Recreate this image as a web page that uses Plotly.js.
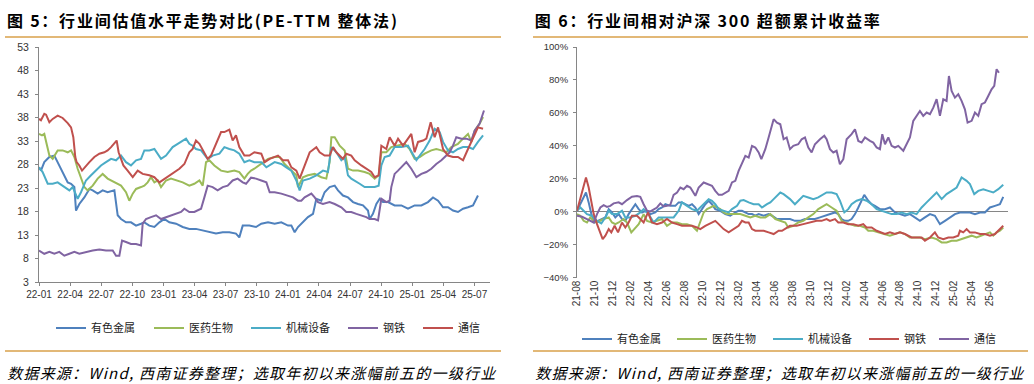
<!DOCTYPE html>
<html>
<head>
<meta charset="utf-8">
<script src="https://cdn.plot.ly/plotly-3.0.1.min.js"></script>
<style>
html,body{margin:0;padding:0;background:#fff;}
#chart{width:1034px;height:384px;}
</style>
</head>
<body>
<div id="chart"></div>
<script>
// ---------- Chart 5: PE-TTM (x = months since 2022-01) ----------
const leftTickLabels = ['22-01','22-04','22-07','22-10','23-01','23-04','23-07','23-10','24-01','24-04','24-07','24-10','25-01','25-04','25-07'];
const seriesNames = ['有色金属','医药生物','机械设备','钢铁','通信'];

const peMetalX = [0,0.19,0.51,1.0,1.48,1.8,2.12,2.44,2.77,3.09,3.41,3.57,3.89,4.37,4.86,5.18,5.66,6.14,6.62,7.27,7.43,7.59,7.91,8.39,8.87,9.36,9.84,10.16,10.64,11.13,11.61,12.09,12.57,13.22,13.86,14.5,15.14,15.79,16.43,17.07,17.72,18.36,19.0,19.32,19.65,20.29,20.93,21.44,22.09,22.73,23.37,24.02,24.34,24.66,24.98,25.46,25.94,26.43,26.75,27.23,27.55,28.03,28.52,28.84,29.32,29.8,30.29,30.77,31.25,31.73,31.89,32.21,32.54,32.86,33.18,33.66,34.3,34.95,35.59,36.23,36.88,37.52,38.0,38.49,38.97,39.45,39.93,40.41,40.9,41.38,41.86,42.34];
const peMetalY = [27.4,26.7,28.5,29.6,29.9,28.5,27.1,25.7,24.2,23.9,23.2,18.2,19.6,21.0,22.8,22.5,21.8,22.5,22.1,22.5,20.3,17.2,16.4,15.7,15.7,15.0,15.4,15.7,15.0,14.7,15.7,16.4,15.7,15.4,14.7,14.3,14.3,14.0,13.6,13.3,13.6,13.6,13.3,12.5,15.0,15.0,14.7,15.4,15.7,15.4,15.7,15.0,15.0,13.6,14.7,15.7,16.8,17.5,20.7,20.3,22.1,23.2,23.5,22.5,21.4,21.0,20.0,19.6,19.3,18.2,16.4,17.5,19.6,20.7,20.0,20.0,19.3,19.3,18.6,19.3,19.3,20.0,21.0,20.3,18.9,18.9,18.2,17.9,18.6,18.9,19.3,21.4];

const pePharmaX = [0,0.29,0.51,0.68,1.0,1.32,1.8,2.28,2.77,3.09,3.41,3.73,4.05,4.37,4.69,5.18,5.66,6.14,6.62,7.27,7.91,8.39,8.71,9.04,9.36,9.84,10.16,10.48,10.8,11.13,11.45,11.77,12.25,12.73,13.22,13.86,14.5,14.98,15.47,15.79,16.11,16.43,16.91,17.56,18.2,18.84,19.32,19.81,20.13,20.45,20.77,21.44,22.09,22.73,23.21,23.69,24.34,24.82,24.98,25.46,25.94,26.59,27.23,27.71,28.03,28.2,28.52,29.0,29.48,29.8,30.29,30.77,31.41,31.89,32.38,32.76,33.02,33.5,33.98,34.63,35.27,35.75,36.23,36.72,37.2,37.84,38.32,38.81,39.29,39.77,40.41,40.9,41.38,41.7,42.02,42.5,42.83];
const pePharmaY = [34.5,34.2,34.5,32.8,29.9,29.2,31.0,31.0,30.6,31.0,29.6,27.1,25.0,23.2,22.5,23.5,25.0,26.0,25.0,24.2,23.5,22.1,20.3,21.8,22.8,23.2,23.5,24.2,25.3,24.2,24.6,23.2,24.6,25.0,24.6,24.2,23.5,23.9,24.6,23.5,28.5,28.9,27.8,26.7,26.4,26.7,26.4,25.0,26.0,26.7,27.1,28.1,29.2,29.6,29.6,28.1,26.7,25.7,23.2,25.3,25.7,26.0,25.3,25.0,28.5,33.8,33.8,32.0,31.0,27.1,26.7,26.7,26.4,26.0,25.0,25.7,30.6,30.6,31.7,32.0,32.4,31.3,29.2,29.6,30.3,31.0,31.3,31.0,30.6,31.7,32.4,33.5,34.5,32.8,35.2,36.7,38.1];

const peMachX = [0,0.35,0.84,1.32,1.8,2.44,2.93,3.25,3.5,3.73,4.05,4.53,5.02,5.5,5.98,6.46,6.95,7.43,7.91,8.39,8.87,9.36,9.84,10.16,10.64,11.13,11.45,11.77,12.25,12.89,13.38,13.86,14.18,14.5,14.82,15.14,15.63,16.27,16.75,17.4,17.88,18.36,18.84,19.32,19.81,20.29,20.77,21.44,21.93,22.73,23.37,23.85,24.34,24.82,25.14,25.46,26.11,26.75,27.39,27.87,28.2,28.68,29.16,29.48,29.8,30.12,30.45,30.93,31.41,31.89,32.38,32.76,33.02,33.34,33.82,34.3,34.95,35.59,36.07,36.4,36.72,37.2,37.68,38.16,38.65,38.97,39.45,39.93,40.41,40.9,41.38,41.86,42.34,42.83];
const peMachY = [27.4,26.4,23.9,23.9,24.2,23.2,22.5,23.2,21.8,20.7,22.1,24.6,25.7,26.7,27.8,28.5,29.2,28.9,29.9,28.5,27.8,28.9,29.2,31.0,31.0,31.3,30.3,29.2,29.9,31.7,32.4,33.1,33.5,32.4,32.0,31.3,31.0,29.2,29.9,30.3,31.7,31.3,31.0,30.3,28.5,28.9,28.5,28.5,27.4,28.5,28.1,27.4,26.7,24.6,22.5,24.6,25.0,25.7,26.7,26.4,31.7,30.6,28.9,29.6,25.7,25.0,24.6,23.9,23.2,23.2,23.2,23.5,27.8,29.6,29.9,31.7,31.7,32.0,30.3,28.9,29.9,31.3,33.1,35.6,34.9,32.8,31.0,30.6,31.3,31.7,31.7,31.3,32.8,34.2];

const peSteelX = [0,0.51,1.0,1.48,1.96,2.44,2.93,3.41,3.89,4.53,5.18,5.82,6.46,7.11,7.43,7.75,8.01,8.39,8.87,9.36,9.84,10.0,10.32,10.8,11.29,11.77,12.25,12.73,13.22,13.7,14.02,14.5,14.98,15.63,15.95,16.27,16.75,17.23,17.72,18.2,18.68,19.16,19.65,19.97,20.45,20.93,21.44,21.93,22.25,22.73,23.37,23.85,24.5,24.98,25.3,25.62,26.27,26.59,26.91,27.39,28.03,28.52,29.16,29.64,30.12,30.61,31.09,31.57,31.89,32.38,32.7,33.02,33.5,33.82,33.98,34.3,34.63,34.95,35.43,35.91,36.4,36.88,37.36,37.84,38.32,38.81,39.29,39.61,39.93,40.25,40.74,41.22,41.7,42.02,42.5,42.92];
const peSteelY = [9.7,9.0,9.4,9.0,9.4,8.6,9.0,9.4,9.0,9.4,9.7,9.9,9.7,9.7,8.6,8.6,11.8,11.5,11.1,11.1,10.8,15.4,16.4,16.8,17.2,16.4,16.8,17.2,17.5,17.9,18.6,17.9,17.9,18.6,21.0,23.5,23.2,22.5,23.2,23.5,24.6,25.0,24.2,23.9,25.2,25.0,24.6,24.2,22.1,22.1,21.8,21.4,21.0,20.3,20.3,21.0,21.8,21.0,20.0,19.6,20.0,19.6,18.9,17.9,17.9,17.5,17.2,16.8,16.4,16.4,16.1,20.7,20.0,20.3,23.2,26.0,26.7,27.4,28.5,27.1,25.3,26.0,26.4,27.1,28.1,28.9,29.9,30.6,32.0,33.8,33.5,33.5,33.1,35.2,36.7,39.5];

const peTelecomX = [0,0.19,0.51,0.68,1.0,1.32,1.8,2.28,2.77,3.09,3.31,3.5,3.63,3.89,4.15,4.53,4.86,5.34,5.82,6.3,6.62,6.95,7.27,7.49,7.68,7.91,8.14,8.55,9.04,9.52,10.0,10.64,11.13,11.61,12.09,12.57,13.05,13.54,14.02,14.5,14.82,15.14,15.47,15.79,16.27,16.59,17.07,17.56,17.88,18.36,18.68,19.0,19.32,19.81,20.29,20.77,21.44,21.76,22.25,23.05,23.53,24.02,24.34,24.82,25.14,25.62,26.11,26.75,27.07,27.55,28.03,28.36,28.68,29.32,29.64,30.12,30.45,31.09,31.57,32.05,32.38,32.76,33.02,33.5,33.82,34.3,34.63,35.11,35.59,35.91,36.23,36.56,37.04,37.36,37.78,38.16,38.49,38.97,39.45,39.93,40.41,40.9,41.38,41.86,42.34,42.83];
const peTelecomY = [37.7,37.4,38.8,38.6,37.0,37.7,38.4,37.9,36.8,35.9,33.8,29.6,28.5,27.8,26.7,27.8,28.5,29.6,30.3,30.6,31.0,31.7,32.4,33.1,30.6,29.2,27.8,26.7,25.3,26.7,26.0,25.7,25.3,24.2,24.9,25.7,26.4,27.1,28.1,30.6,31.3,33.1,32.4,31.0,29.2,29.9,32.4,34.9,34.9,35.4,33.1,34.2,31.7,29.9,29.9,30.6,30.3,28.5,29.2,29.9,28.9,28.9,27.4,26.7,25.0,27.8,30.6,31.7,30.6,29.9,29.9,31.7,30.6,29.2,30.3,29.9,28.9,27.8,27.1,26.4,25.3,25.7,32.0,31.3,33.8,32.0,33.5,32.0,33.5,34.5,30.6,32.8,33.1,33.5,37.0,33.8,35.9,31.3,29.9,29.6,29.6,28.9,31.3,33.5,35.9,35.6];

// ---------- Chart 6: excess return vs CSI 300, % (x = months since 2021-08) ----------
const rightTickLabels = ['21-08','21-10','21-12','22-02','22-04','22-06','22-08','22-10','22-12','23-02','23-04','23-06','23-08','23-10','23-12','24-02','24-04','24-06','24-08','24-10','24-12','25-02','25-04','25-06'];

const exMetalX = [0,0.37,0.74,1.0,1.3,1.6,1.97,2.41,2.78,3.16,3.53,3.9,4.27,4.64,5.01,5.38,5.75,6.12,6.5,6.87,7.24,7.61,8.17,8.72,9.09,9.47,9.84,10.39,10.95,11.32,11.69,12.06,12.44,12.81,13.18,13.55,13.92,14.29,14.66,15.03,15.4,15.96,16.52,17.07,17.63,18.0,18.37,18.75,19.12,19.49,19.86,20.23,20.79,21.34,21.72,22.27,22.83,23.72,24.27,24.83,25.39,25.94,26.5,27.06,27.61,28.17,28.73,29.1,29.47,29.84,30.21,30.58,30.96,31.33,31.7,31.99,32.44,32.81,33.18,33.74,34.3,34.85,35.41,35.97,36.52,37.08,37.64,38.19,38.75,39.31,39.86,40.42,40.98,41.53,42.09,42.65,43.2,43.76,44.32,44.88,45.43,45.99,46.55,47.1,47.47];
const exMetalY = [0.6,4.6,8.7,11.7,5.7,-1.4,-6.5,-5.5,-4.4,-3.4,1.6,-0.4,-3.4,-1.4,-4.4,-5.5,-1.4,1.6,4.6,1.6,-0.4,0.6,-1.4,-0.4,1.6,2.6,4.6,3.6,3.6,5.7,5.7,4.6,3.6,4.6,2.6,-1.4,1.6,4.6,6.7,4.6,1.6,0.6,-1.4,-2.4,-0.4,0.6,0.6,-0.4,-1.4,-1.4,-2.4,-1.4,-2.4,-1.4,-2.4,-4.4,-4.4,-4.4,-5.5,-5.5,-4.4,-4.4,-4.4,-3.4,-2.4,-1.4,-0.4,-1.4,-4.4,-5.5,-5.5,-4.4,-1.4,2.6,6.7,10.3,6.7,4.6,3.6,1.6,1.6,2.6,-0.4,-1.4,-2.4,-1.4,-3.4,-5.5,-3.4,-1.4,-2.4,-7.5,-5.5,-3.4,-1.4,-0.4,-0.4,-0.4,-1.4,-0.4,-0.4,2.6,3.6,4.6,9.1];

const exPharmaX = [0,0.37,0.74,1.11,1.48,1.86,2.23,2.6,2.97,3.53,3.9,4.27,4.64,5.2,5.57,6.05,6.5,6.87,7.42,7.8,8.35,8.91,9.47,10.02,10.58,11.14,11.69,12.25,12.81,13.36,13.73,14.11,14.48,14.85,15.22,15.59,15.96,16.33,16.7,17.26,17.82,18.19,18.75,19.3,19.86,20.42,20.97,21.53,22.09,22.64,23.2,23.53,24.09,24.64,25.2,25.76,26.32,26.87,27.43,27.8,28.36,28.91,29.47,29.84,30.4,30.96,31.51,32.07,32.44,33.0,33.55,34.3,34.85,35.41,35.97,36.52,37.08,37.64,38.19,38.75,39.49,40.05,40.61,41.16,41.72,42.28,42.83,43.39,43.95,44.5,45.06,45.62,45.99,46.36,46.73,47.1,47.47];
const exPharmaY = [-1.4,-2.4,-5.5,-6.5,-3.4,-5.5,-6.5,-5.5,-4.4,-3.4,-6.5,-7.5,-6.5,-4.4,-6.5,-12.5,-9.5,-7.5,-1.4,-5.5,-6.5,-5.5,-4.4,-8.5,-6.5,-6.5,-7.5,-7.5,-8.5,-11.5,-5.5,-0.4,1.6,2.6,3.6,2.6,1.6,-0.4,-1.4,-1.4,-1.4,-1.4,-2.4,-3.4,-2.4,-3.4,-3.4,-1.4,-4.4,-5.5,-6.5,-9.5,-8.5,-6.5,-5.5,-3.4,-1.4,1.6,3.6,4.6,2.6,0.6,-5.5,-6.5,-7.5,-8.5,-8.5,-9.5,-11.5,-11.5,-12.5,-13.5,-14.5,-13.5,-12.5,-13.5,-15.6,-15.6,-15.6,-16.6,-15.6,-16.6,-18.6,-18.6,-17.6,-17.6,-16.6,-15.6,-14.5,-15.6,-14.5,-13.5,-12.5,-14.5,-12.5,-11.5,-9.5];

const exMachX = [0,0.37,0.74,1.11,1.67,2.23,2.71,3.16,3.53,3.9,4.45,5.01,5.38,5.94,6.5,7.05,7.42,7.98,8.54,9.09,9.65,10.21,10.76,11.32,11.69,12.25,12.81,13.36,13.73,14.29,14.66,15.03,15.4,15.78,16.33,16.89,17.26,17.82,18.19,18.56,19.12,19.67,20.23,20.6,21.16,21.53,21.9,22.27,22.64,23.01,23.72,24.27,24.64,25.2,25.76,26.32,26.87,27.43,27.8,28.36,28.91,29.28,29.77,30.21,30.58,31.14,31.7,32.25,32.81,33.37,33.92,34.48,35.04,35.6,36.15,36.71,37.26,37.82,38.38,38.94,39.49,40.05,40.61,41.16,41.72,42.28,42.83,43.39,43.76,44.24,44.69,45.25,45.8,46.36,46.92,47.47];
const exMachY = [0.6,2.6,0.6,-1.4,-2.4,-5.5,-7.1,-3.4,0.6,-1.4,-1.4,0.6,-3.4,-3.4,-2.4,-0.4,1.6,-1.4,-6.5,-3.4,-3.4,-3.4,-3.4,0.6,5.7,3.6,1.6,0.6,2.6,5.7,7.7,6.7,4.6,1.6,0.6,-0.4,1.6,3.6,6.7,7.1,5.7,4.6,4.6,2.6,4.6,5.7,7.7,9.7,11.7,10.7,7.7,4.6,6.7,9.7,8.7,7.7,8.7,10.7,11.7,11.7,10.7,6.7,-0.4,1.6,4.6,6.7,7.7,6.7,4.6,1.6,0.6,-0.4,-1.4,-1.4,-0.4,-1.4,-0.4,-1.4,2.6,5.7,8.7,11.7,7.7,10.7,12.7,14.7,20.8,18.8,16.8,10.7,12.7,13.7,12.7,11.7,13.7,16.4];

const exSteelX = [0,0.37,0.74,1.0,1.3,1.6,1.86,2.23,2.6,2.86,3.16,3.53,3.82,4.19,4.57,5.01,5.38,5.75,6.12,6.68,7.05,7.42,7.91,8.35,8.91,9.47,10.02,10.58,11.14,11.69,12.25,12.81,13.36,13.73,14.29,14.66,15.03,15.4,15.78,16.33,16.89,17.45,18.0,18.37,18.75,19.12,19.49,19.86,20.42,20.79,21.34,21.9,22.46,22.83,23.72,24.46,25.2,25.94,26.69,27.24,27.8,28.17,28.73,29.1,29.66,30.21,30.77,31.33,31.88,32.25,32.81,33.37,33.92,34.3,34.85,35.41,35.97,36.52,37.26,37.82,38.38,38.75,39.31,39.86,40.23,40.79,41.35,41.9,42.46,42.65,43.02,43.39,43.76,44.32,44.88,45.43,45.99,46.55,46.92,47.47];
const exSteelY = [0.6,8.7,16.8,20.8,14.7,6.7,-1.4,-7.5,-13.5,-16.6,-14.5,-10.5,-12.5,-8.5,-12.5,-6.5,-9.5,-6.5,-2.4,-2.4,-4.4,-6.5,-0.4,-6.5,-7.5,-6.5,-4.4,-6.5,-7.5,-8.5,-8.5,-8.5,-9.5,-10.5,-8.5,-7.5,-6.5,-5.5,-7.5,-10.5,-12.5,-10.5,-8.5,-5.5,-6.5,-6.5,-10.5,-11.5,-11.5,-11.5,-12.5,-13.5,-11.5,-11.5,-8.5,-8.5,-7.5,-6.5,-5.5,-5.5,-4.4,-5.5,-4.4,-6.5,-6.5,-7.5,-7.5,-8.5,-7.5,-9.5,-9.5,-11.5,-12.5,-13.5,-12.5,-13.5,-12.5,-13.5,-15.6,-15.6,-15.6,-17.6,-15.6,-12.5,-15.6,-16.6,-15.6,-15.6,-14.5,-11.5,-12.5,-10.5,-12.5,-12.5,-13.5,-13.5,-14.5,-13.5,-11.5,-8.5];

const exTelecomX = [0,0.56,1.11,1.48,1.86,2.23,2.6,2.97,3.34,3.71,4.08,4.64,5.01,5.57,6.12,6.68,7.05,7.42,7.8,8.17,8.54,8.91,9.28,9.65,10.02,10.39,10.76,11.14,11.51,11.88,12.25,12.62,13.18,13.55,14.11,14.66,15.03,15.4,15.78,16.15,16.52,16.89,17.26,17.63,18.0,18.37,18.75,19.12,19.49,19.86,20.23,20.53,20.97,21.34,21.64,21.9,22.27,22.64,23.01,23.35,23.72,24.09,24.64,25.02,25.39,25.76,26.13,26.5,27.06,27.54,27.8,28.17,28.54,28.91,29.28,29.66,30.03,30.58,30.96,31.33,31.7,32.07,32.63,33.0,33.37,33.74,34.0,34.3,34.67,35.04,35.41,35.78,36.34,36.71,37.08,37.45,37.82,38.19,38.56,38.94,39.31,39.68,40.05,40.42,40.79,41.16,41.42,41.72,42.09,42.46,42.83,43.2,43.5,43.95,44.32,44.69,45.06,45.43,45.8,46.17,46.47,46.73,46.99];
const exTelecomY = [-2.4,-3.0,-4.4,-5.5,-6.5,-1.4,2.6,4.0,3.0,3.6,5.1,5.7,4.6,7.1,9.1,9.5,9.1,4.6,0.6,0.2,1.6,2.6,5.1,3.2,3.6,4.2,10.3,11.7,14.7,13.7,15.8,14.7,9.7,14.7,17.8,16.8,15.8,12.7,10.3,10.3,11.7,12.7,17.8,18.8,24.8,28.9,33.9,32.9,40.0,39.0,36.0,31.9,38.0,45.1,52.1,56.2,54.1,53.1,44.0,45.1,38.0,40.0,41.0,44.0,45.1,39.0,36.0,41.0,44.0,46.1,44.0,38.0,36.0,37.0,28.9,31.9,44.0,47.1,50.1,43.0,42.0,45.1,43.0,42.0,39.0,38.0,47.1,41.0,45.1,40.0,39.0,40.0,37.0,41.0,45.1,55.2,58.2,61.2,58.2,60.2,59.2,63.2,68.3,58.2,68.3,67.3,82.4,73.3,69.3,71.3,67.3,62.2,54.1,55.2,60.2,58.2,65.3,66.3,70.3,74.3,76.4,86.5,84.4];

// ---------- styling ----------
const colors = {metal:'#4F81BD', pharma:'#9BBB59', mach:'#4BACC6', purple:'#8064A2', red:'#C0504D'};
const latin = 'Liberation Sans, Arial, Noto Sans CJK SC, sans-serif';
const cjk = 'Noto Sans CJK SC, Liberation Sans, sans-serif';
const W = 1034, H = 384;
const px = v => v / W;
const py = v => 1 - v / H;

// one legend per entry so each key sits where the reference puts it
const legendLeftX = [51, 149, 246, 343, 418];
const legendRightX = [577, 672, 768, 864, 934];
const legendIds = ['legend','legend2','legend3','legend4','legend5','legend6','legend7','legend8','legend9','legend10'];

function line(x, y, name, color, xa, ya, leg) {
  return {type:'scatter', mode:'lines', x:x, y:y, name:name, xaxis:xa, yaxis:ya, legend:leg,
          showlegend:true, line:{color:color, width:2}, hoverinfo:'skip'};
}

const traces = [
  line(peMetalX, peMetalY, seriesNames[0], colors.metal, 'x', 'y', legendIds[0]),
  line(pePharmaX, pePharmaY, seriesNames[1], colors.pharma, 'x', 'y', legendIds[1]),
  line(peMachX, peMachY, seriesNames[2], colors.mach, 'x', 'y', legendIds[2]),
  line(peSteelX, peSteelY, seriesNames[3], colors.purple, 'x', 'y', legendIds[3]),
  line(peTelecomX, peTelecomY, seriesNames[4], colors.red, 'x', 'y', legendIds[4]),
  line(exMetalX, exMetalY, seriesNames[0], colors.metal, 'x2', 'y2', legendIds[5]),
  line(exPharmaX, exPharmaY, seriesNames[1], colors.pharma, 'x2', 'y2', legendIds[6]),
  line(exMachX, exMachY, seriesNames[2], colors.mach, 'x2', 'y2', legendIds[7]),
  line(exSteelX, exSteelY, seriesNames[3], colors.red, 'x2', 'y2', legendIds[8]),
  line(exTelecomX, exTelecomY, seriesNames[4], colors.purple, 'x2', 'y2', legendIds[9])
];

const axisCommon = {showgrid:false, showline:true, linecolor:'#868686', linewidth:1,
  ticks:'outside', ticklen:3, tickcolor:'#868686', tickfont:{family:latin, size:10, color:'#333'}, fixedrange:true};

// text blocks: [left edge px, right edge px] spans
const titleSpans = [[7, 397], [535, 880], [7, 495], [535, 1023]];

const layout = {
  width:W, height:H, margin:{l:0, r:0, t:0, b:0},
  paper_bgcolor:'#fff', plot_bgcolor:'#fff', showlegend:true,
  xaxis: Object.assign({}, axisCommon, {domain:[px(39), px(490)], range:[0, 43.5], anchor:'y',
    tickmode:'array', tickvals:leftTickLabels.map((_, i) => i * 3), ticktext:leftTickLabels, zeroline:false}),
  yaxis: Object.assign({}, axisCommon, {domain:[py(282), py(47)], range:[3, 53], anchor:'x',
    tickmode:'linear', tick0:3, dtick:5, zeroline:false, ticklabelstandoff:4, tickfont:{family:latin, size:10.5, color:'#333'}}),
  xaxis2: Object.assign({}, axisCommon, {domain:[px(577), px(1008)], range:[0, 48], anchor:'y2',
    showline:false, ticks:'', tickangle:-90,
    tickmode:'array', tickvals:rightTickLabels.map((_, i) => i * 2), ticktext:rightTickLabels, zeroline:false}),
  yaxis2: Object.assign({}, axisCommon, {domain:[py(277.7), py(47)], range:[-40, 100], anchor:'x2',
    tickmode:'linear', tick0:-40, dtick:20, ticksuffix:'%', zeroline:true, zerolinecolor:'#868686', zerolinewidth:1,
    ticklabelstandoff:3, tickfont:{family:latin, size:9.5, color:'#333'}}),
  shapes: [
    {type:'line', xref:'paper', yref:'paper', x0:px(5), x1:px(501), y0:py(37), y1:py(37), line:{color:'#D9A04A', width:1.5}},
    {type:'line', xref:'paper', yref:'paper', x0:px(533), x1:px(1028), y0:py(37), y1:py(37), line:{color:'#D9A04A', width:1.5}},
    {type:'line', xref:'paper', yref:'paper', x0:px(5), x1:px(501), y0:py(351), y1:py(351), line:{color:'#D9A04A', width:1.5}},
    {type:'line', xref:'paper', yref:'paper', x0:px(533), x1:px(1028), y0:py(351), y1:py(351), line:{color:'#D9A04A', width:1.5}}
  ],
  annotations: [
    {text:'<b>图 5：行业间估值水平走势对比(PE-TTM 整体法)</b>', yc:20, size:16},
    {text:'<b>图 6：行业间相对沪深 300 超额累计收益率</b>', yc:20, size:16},
    {text:'<i>数据来源：Wind, 西南证券整理；选取年初以来涨幅前五的一级行业</i>', yc:372, size:15},
    {text:'<i>数据来源：Wind, 西南证券整理；选取年初以来涨幅前五的一级行业</i>', yc:372, size:15}
  ].map((a, i) => ({xref:'paper', yref:'paper', x:px((titleSpans[i][0] + titleSpans[i][1]) / 2), y:py(a.yc),
     xanchor:'center', yanchor:'middle', showarrow:false, text:a.text,
     font:{family:cjk, size:a.size, color:'#000'}}))
};

legendIds.forEach((id, i) => {
  const left = i < 5;
  layout[id] = {visible:true, orientation:'h', x:px(left ? legendLeftX[i] : legendRightX[i - 5]), y:py(left ? 328 : 339),
    xanchor:'left', yanchor:'middle', font:{family:cjk, size:11, color:'#222'},
    bgcolor:'rgba(0,0,0,0)', borderwidth:0};
});

Plotly.newPlot('chart', traces, layout, {displayModeBar:false, staticPlot:true}).then(gd => {
  // stretch letter spacing of title / source lines to the reference's text widths
  gd.querySelectorAll('.annotation').forEach(g => {
    const i = +g.getAttribute('data-index');
    const t = g.querySelector('text.annotation-text');
    if (t && titleSpans[i]) {
      t.setAttribute('textLength', titleSpans[i][1] - titleSpans[i][0]);
      t.setAttribute('lengthAdjust', 'spacing');
    }
  });
});
</script>
</body>
</html>
